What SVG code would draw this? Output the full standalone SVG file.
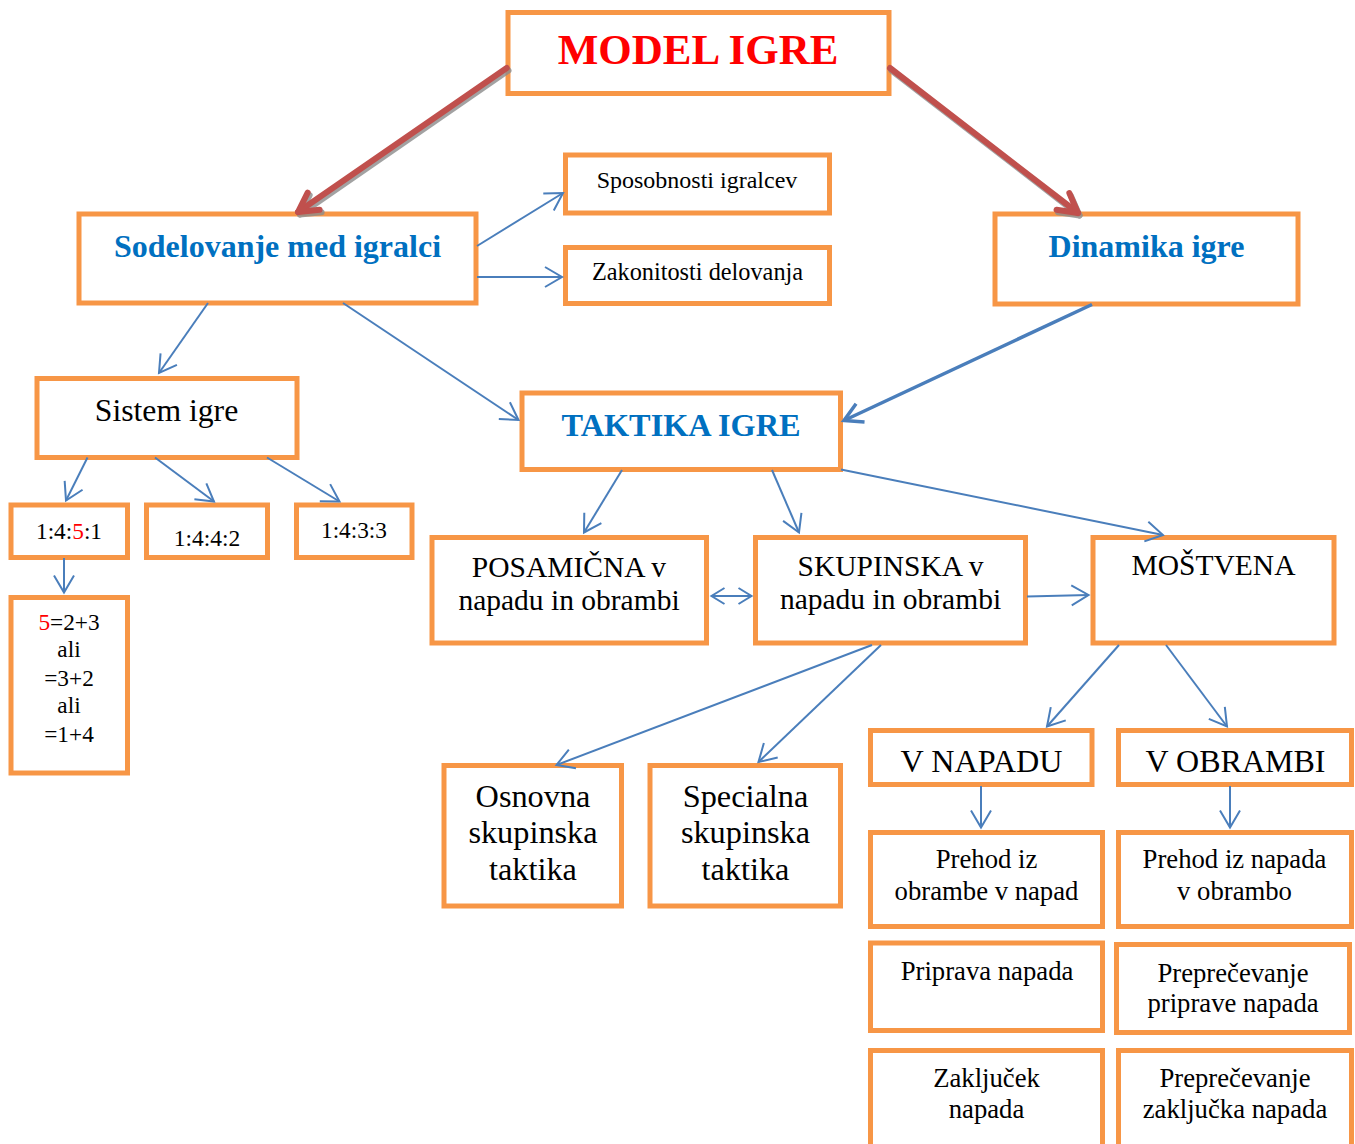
<svg xmlns="http://www.w3.org/2000/svg" width="1355" height="1144" viewBox="0 0 1355 1144">
<defs>
<style>
.box{fill:#fff;stroke:#F79646;stroke-width:5}
.t{font-family:"Liberation Serif","Times New Roman",serif;fill:#000;text-anchor:middle}
.b{font-weight:bold;fill:#0070C0}
.c{fill:none;stroke:#4A7EBB;stroke-width:2}
.thick{stroke-width:3.5}
.red{fill:none;stroke:#C0504D;stroke-width:6;stroke-linecap:round}
.sh{fill:none;stroke:#8c8c8c;stroke-width:6;stroke-linecap:round;opacity:0.8}
</style>
<marker id="a" markerUnits="userSpaceOnUse" orient="auto" refX="0" refY="0" markerWidth="40" markerHeight="40" viewBox="-25 -20 30 40" overflow="visible">
<path d="M-17,-10 L0,0 L-17,10" fill="none" stroke="#4A7EBB" stroke-width="2"/>
</marker>
<marker id="as" markerUnits="userSpaceOnUse" orient="auto-start-reverse" refX="0" refY="0" markerWidth="30" markerHeight="30" viewBox="-20 -15 25 30" overflow="visible">
<path d="M-13,-8 L0,0 L-13,8" fill="none" stroke="#4A7EBB" stroke-width="2"/>
</marker>
<marker id="ab" markerUnits="userSpaceOnUse" orient="auto" refX="0" refY="0" markerWidth="40" markerHeight="40" viewBox="-25 -20 30 40" overflow="visible">
<path d="M-18,-10 L0,0 L-18,10" fill="none" stroke="#4A7EBB" stroke-width="3.5"/>
</marker>
<marker id="ar" markerUnits="userSpaceOnUse" orient="auto" refX="0" refY="0" markerWidth="50" markerHeight="50" viewBox="-30 -25 35 50" overflow="visible">
<path d="M-19,-10.5 L0,0 L-19,10.5" fill="none" stroke="#C0504D" stroke-width="6" stroke-linecap="round" stroke-linejoin="round"/>
</marker>
<marker id="ag" markerUnits="userSpaceOnUse" orient="auto" refX="0" refY="0" markerWidth="50" markerHeight="50" viewBox="-30 -25 35 50" overflow="visible">
<path d="M-19,-10.5 L0,0 L-19,10.5" fill="none" stroke="#8c8c8c" stroke-width="6" stroke-linecap="round" stroke-linejoin="round"/>
</marker>
</defs>
<rect width="1355" height="1144" fill="#fff"/>

<g id="nodes">
<g id="model-igre"><rect class="box" x="508" y="12.5" width="381" height="81"/><text class="t" x="698" y="64" font-size="43" font-weight="bold" fill="#FF0000" style="fill:#FF0000">MODEL IGRE</text></g>
<g id="sodelovanje"><rect class="box" x="79" y="214" width="397" height="89"/><text class="t b" x="277.5" y="257" font-size="32">Sodelovanje med igralci</text></g>
<g id="sposobnosti"><rect class="box" x="565.5" y="155" width="264" height="58"/><text class="t" x="697" y="188" font-size="24">Sposobnosti igralcev</text></g>
<g id="zakonitosti"><rect class="box" x="565.5" y="247.5" width="264" height="56"/><text class="t" x="697.5" y="280" font-size="24.3">Zakonitosti delovanja</text></g>
<g id="dinamika"><rect class="box" x="995" y="214" width="303" height="90"/><text class="t b" x="1146.5" y="257" font-size="32">Dinamika igre</text></g>
<g id="sistem"><rect class="box" x="37" y="378.5" width="260" height="79"/><text class="t" x="166.5" y="421" font-size="31.7">Sistem igre</text></g>
<g id="taktika"><rect class="box" x="522" y="393" width="318.5" height="76.5"/><text class="t b" x="681" y="436" font-size="32.3">TAKTIKA IGRE</text></g>
<g id="s1451"><rect class="box" x="11" y="505" width="116.5" height="52.5"/><text class="t" x="69" y="539" font-size="23.3">1:4:<tspan fill="#FF0000" style="fill:#FF0000">5</tspan>:1</text></g>
<g id="s1442"><rect class="box" x="146.5" y="505" width="121" height="52.5"/><text class="t" x="207" y="546" font-size="23.5">1:4:4:2</text></g>
<g id="s1433"><rect class="box" x="296.5" y="505" width="115.5" height="52.5"/><text class="t" x="354" y="538" font-size="23.3">1:4:3:3</text></g>
<g id="pet"><rect class="box" x="11" y="597.5" width="116.5" height="175.5"/><text class="t" font-size="23.3"><tspan x="69" y="630"><tspan fill="#FF0000" style="fill:#FF0000">5</tspan>=2+3</tspan><tspan x="69" y="657">ali</tspan><tspan x="69" y="686">=3+2</tspan><tspan x="69" y="713">ali</tspan><tspan x="69" y="742">=1+4</tspan></text></g>
<g id="posamicna"><rect class="box" x="432" y="537.5" width="274.5" height="105.5"/><text class="t" font-size="29.5"><tspan x="569" y="577">POSAMIČNA v</tspan><tspan x="569" y="610">napadu in obrambi</tspan></text></g>
<g id="skupinska"><rect class="box" x="755.5" y="537.5" width="270" height="105.5"/><text class="t" font-size="29.5"><tspan x="890.5" y="576">SKUPINSKA v</tspan><tspan x="890.5" y="609">napadu in obrambi</tspan></text></g>
<g id="mostvena"><rect class="box" x="1093" y="537.5" width="241" height="105.5"/><text class="t" x="1213.5" y="575" font-size="29.5">MOŠTVENA</text></g>
<g id="osnovna"><rect class="box" x="444" y="765.5" width="177.5" height="140.5"/><text class="t" font-size="32.3"><tspan x="533" y="807">Osnovna</tspan><tspan x="533" y="843">skupinska</tspan><tspan x="533" y="880">taktika</tspan></text></g>
<g id="specialna"><rect class="box" x="650" y="765.5" width="190.5" height="140.5"/><text class="t" font-size="32.3"><tspan x="745.5" y="807">Specialna</tspan><tspan x="745.5" y="843">skupinska</tspan><tspan x="745.5" y="880">taktika</tspan></text></g>
<g id="v-napadu"><rect class="box" x="870.5" y="730.5" width="221.5" height="54"/><text class="t" x="981.5" y="772" font-size="32.2">V NAPADU</text></g>
<g id="v-obrambi"><rect class="box" x="1118.5" y="730.5" width="233" height="54"/><text class="t" x="1235.5" y="772" font-size="32">V OBRAMBI</text></g>
<g id="prehod-napad"><rect class="box" x="870.5" y="832.5" width="232" height="94"/><text class="t" font-size="26.7"><tspan x="986.5" y="868">Prehod iz</tspan><tspan x="986.5" y="900">obrambe v napad</tspan></text></g>
<g id="prehod-obramba"><rect class="box" x="1118.5" y="832.5" width="233" height="94"/><text class="t" font-size="26.7"><tspan x="1234.5" y="868">Prehod iz napada</tspan><tspan x="1234.5" y="900">v obrambo</tspan></text></g>
<g id="priprava"><rect class="box" x="870.5" y="943" width="232" height="87.5"/><text class="t" x="987" y="980" font-size="26.7">Priprava napada</text></g>
<g id="preprecevanje-priprave"><rect class="box" x="1116.5" y="944.5" width="233" height="88"/><text class="t" font-size="26.7"><tspan x="1233" y="982">Preprečevanje</tspan><tspan x="1233" y="1012">priprave napada</tspan></text></g>
<g id="zakljucek"><rect class="box" x="870.5" y="1050.5" width="232" height="110"/><text class="t" font-size="26.7"><tspan x="986.5" y="1087">Zaključek</tspan><tspan x="986.5" y="1118">napada</tspan></text></g>
<g id="preprecevanje-zakljucka"><rect class="box" x="1118.5" y="1050.5" width="233" height="110"/><text class="t" font-size="26.7"><tspan x="1235" y="1087">Preprečevanje</tspan><tspan x="1235" y="1118">zaključka napada</tspan></text></g>
</g>

<g id="connectors">
<line class="sh" x1="508.5" y1="70.5" x2="300" y2="214.5" marker-end="url(#ag)"/>
<line class="red" x1="506.7" y1="68" x2="298" y2="212" marker-end="url(#ar)"/>
<line class="sh" x1="891.5" y1="70.5" x2="1079.5" y2="215.5" marker-end="url(#ag)"/>
<line class="red" x1="890" y1="68" x2="1078" y2="213" marker-end="url(#ar)"/>
<line class="c" x1="477" y1="246" x2="563" y2="193" marker-end="url(#a)"/>
<line class="c" x1="477" y1="277" x2="562" y2="277" marker-end="url(#a)"/>
<line class="c" x1="208" y1="303" x2="159" y2="373" marker-end="url(#a)"/>
<line class="c" x1="343" y1="303" x2="518.5" y2="420" marker-end="url(#a)"/>
<line class="c thick" x1="1092" y1="304.5" x2="844" y2="420.5" marker-end="url(#ab)"/>
<line class="c" x1="622" y1="470" x2="584" y2="532.5" marker-end="url(#a)"/>
<line class="c" x1="772" y1="470" x2="799" y2="532.5" marker-end="url(#a)"/>
<line class="c" x1="841" y1="469.5" x2="1163" y2="535" marker-end="url(#a)"/>
<line class="c" x1="711.5" y1="596" x2="751.5" y2="596" marker-start="url(#as)" marker-end="url(#as)"/>
<line class="c" x1="1027" y1="596.5" x2="1088.5" y2="595" marker-end="url(#a)"/>
<line class="c" x1="872" y1="645" x2="556.5" y2="765" marker-end="url(#a)"/>
<line class="c" x1="881" y1="645" x2="758.5" y2="762" marker-end="url(#a)"/>
<line class="c" x1="1119" y1="645" x2="1047" y2="726.5" marker-end="url(#a)"/>
<line class="c" x1="1166" y1="645" x2="1227" y2="726.5" marker-end="url(#a)"/>
<line class="c" x1="981" y1="786" x2="981" y2="827.5" marker-end="url(#a)"/>
<line class="c" x1="1230" y1="786" x2="1230" y2="827.5" marker-end="url(#a)"/>
<line class="c" x1="87.5" y1="457.5" x2="66" y2="500.5" marker-end="url(#a)"/>
<line class="c" x1="155" y1="457.5" x2="214" y2="501.5" marker-end="url(#a)"/>
<line class="c" x1="267" y1="457.5" x2="339.5" y2="501.5" marker-end="url(#a)"/>
<line class="c" x1="64" y1="558" x2="64" y2="592.5" marker-end="url(#a)"/>
</g>
</svg>
